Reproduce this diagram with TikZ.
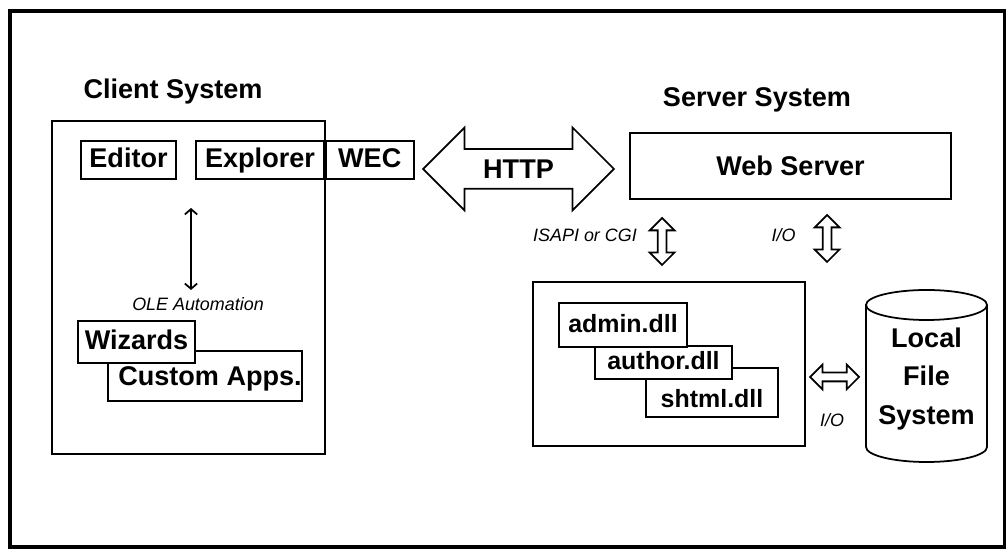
\documentclass[tikz,border=0pt]{standalone}
\usepackage{fontspec}
\setmainfont{Liberation Sans}
\usetikzlibrary{positioning,shapes.arrows,arrows.meta}

\newcommand\bigbold{\bfseries\fontsize{15.4}{22}\selectfont}
\newcommand\dllfont{\bfseries\fontsize{14.2}{17}\selectfont}
\newcommand\notefont{\itshape\fontsize{10.2}{12}\selectfont}

\tikzset{
  box/.style={draw, fill=white, line width=1pt, inner sep=0pt, font=\bigbold,
    text height=11.1pt, text depth=2pt},
  dllbox/.style={box, font=\dllfont, text height=10.2pt, text depth=2pt},
  title/.style={font=\bigbold},
  note/.style={font=\notefont},
  fatarrow/.style={double arrow, draw, fill=white, line width=1pt, inner sep=0.07cm,
    double arrow head extend=0.16cm, minimum height=0.94cm},
}

\begin{document}
\begin{tikzpicture}[x=0.02cm,y=0.02cm]
\useasboundingbox (0,0) rectangle (1006,550);
\draw [line width=2.3pt] (10,3) rectangle (1005,539);

% client side
\node[title] (clienttitle) at (173,458) {Client System};
\node[draw, line width=1pt, minimum width=5.46cm, minimum height=6.66cm] (client) at (188.5,262.5) {};
\node[box, minimum width=1.9cm, minimum height=0.76cm] (editor) at (128.5,390) {Editor};
\node[box, minimum width=2.56cm, minimum height=0.76cm] (explorer) at (260,390) {Explorer};
\node[box, minimum width=1.76cm, minimum height=0.76cm, right=0pt of explorer] (wec) {WEC};
\coordinate (oletop) at (191,342);
\coordinate (olebot) at (191,260);
\draw[line width=1pt, {Straight Barb[length=3pt,width=7pt]}-{Straight Barb[length=3pt,width=7pt]}] (oletop) -- (olebot);
\node[note] (ole) at (198,246) {OLE Automation};
\node[box, minimum width=3.88cm, minimum height=1cm, text depth=0pt] (custom) at (205,174) {\hspace*{0.2cm}Custom Apps.};
\node[box, minimum width=2.34cm, minimum height=0.84cm] (wizards) at (136.5,208) {Wizards};

% http link
\node[double arrow, draw, fill=white, line width=1pt, font=\bigbold, minimum height=3.82cm,
  double arrow head extend=0.43cm, text height=0.4cm, text depth=0cm, inner ysep=0.18cm,
  inner xsep=0pt] (http) at (518.5,381) {HTTP};

% server side
\node[title] (servertitle) at (757,450) {Server System};
\node[box, minimum width=6.42cm, minimum height=1.32cm, text depth=0pt] (webserver) at (790.5,384) {Web Server};
\node[note] (isapi) at (585,315) {ISAPI or CGI};
\node[fatarrow, rotate=90] (isapiarrow) at (662,308.5) {};
\node[note] (io) at (783.5,315) {I/O};
\node[fatarrow, rotate=90] (ioarrow) at (827,311.5) {};

\node[draw, line width=1pt, minimum width=5.44cm, minimum height=3.28cm] (dlls) at (669,186) {};
\node[dllbox, minimum width=2.64cm, minimum height=0.98cm] (shtml) at (712,157.5) {\raisebox{-0.15cm}{shtml.dll}};
\node[dllbox, minimum width=2.74cm, minimum height=0.66cm] (author) at (663.5,187.5) {author.dll};
\node[dllbox, minimum width=2.56cm, minimum height=0.88cm] (admin) at (623,225) {admin.dll};

\node[fatarrow, minimum height=0.98cm] (fsarrow) at (834.5,173) {};
\node[note] (io2) at (832,130) {I/O};

% local file system
\draw[line width=1pt, fill=white] (866,245) -- (866,103) arc (180:360:60.5 and 15)
  -- (987,245) arc (0:180:60.5 and 15) -- cycle;
\draw[line width=1pt] (866,245) arc (180:360:60.5 and 15);
\node[title, align=center] (lfs) at (926.5,171) {Local\\File\\System};
\end{tikzpicture}
\end{document}
